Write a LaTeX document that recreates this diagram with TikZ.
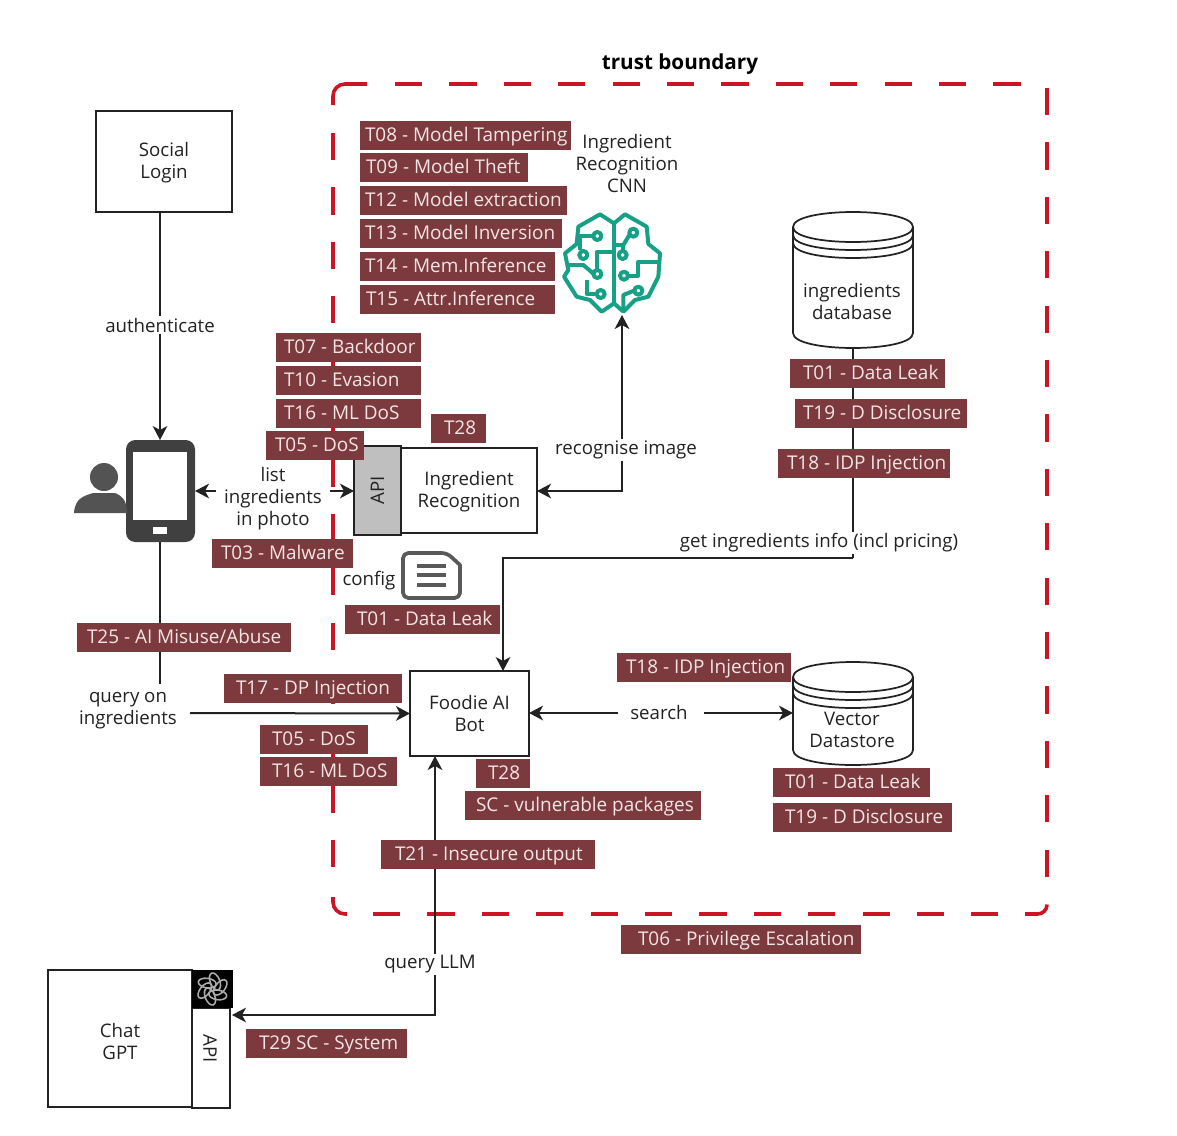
\documentclass[tikz,border=0pt]{standalone}
\usepackage{fontspec}
\setmainfont{Open Sans}
\usetikzlibrary{arrows.meta,backgrounds}
\definecolor{tagfill}{HTML}{7D3A3E}
\definecolor{tagtext}{HTML}{F2E6E4}
\definecolor{bound}{HTML}{CB1424}
\definecolor{ink}{HTML}{222222}
\definecolor{teal}{HTML}{16A085}
\definecolor{devgrey}{HTML}{404040}
\tikzset{
  threat/.style={fill=tagfill,text=tagtext,inner sep=0pt,outer sep=0pt,minimum height=29*0.75pt,text height=10.5pt,text depth=0.5pt,font=\fontsize{14.2}{16}\selectfont},
  lbl/.style={text=ink,fill=white,inner sep=1pt,align=center,font=\fontsize{14}{16.5}\selectfont},
  plain/.style={text=ink,align=center,inner sep=0pt,font=\fontsize{14}{16.5}\selectfont},
  box/.style={draw=ink,line width=1.5pt,fill=white,inner sep=0pt,outer sep=0pt,align=center,text=ink,font=\fontsize{14}{16.5}\selectfont},
  conn/.style={draw=ink,line width=1.5pt},
  arr/.style={conn,-{Stealth[length=10.5pt,width=11pt,inset=3pt]}},
  boundary/.style={draw=bound,line width=2.7pt,dash pattern=on 20.4pt off 20.4pt},
  boundcorner/.style={draw=bound,line width=2.7pt,rounded corners=9pt},
  cyl/.style={draw=ink,line width=1.3pt,fill=white},
  circuit/.style={draw=teal,line width=3pt,line join=round},
}
\newcommand{\threat}[6]{\pgfmathsetmacro{\tw}{(#3-#2)*0.75}\pgfmathsetmacro{\tp}{#5*0.75}%
  \node[threat,minimum width=\tw pt] (#1) at ({(#2+#3)/2},#4) {\makebox[\tw pt][l]{\hspace*{\tp pt}#6}};}
\newcommand{\dbcyl}[4]{%
  \path[cyl] (#2-60,#3+15) .. controls (#2-60,#3-5) and (#2+60,#3-5) .. (#2+60,#3+15)
    -- (#2+60,#4-15) .. controls (#2+60,#4+5) and (#2-60,#4+5) .. (#2-60,#4-15) -- cycle;
  \draw[cyl,fill=none] (#2-60,#3+15) .. controls (#2-60,#3+35) and (#2+60,#3+35) .. (#2+60,#3+15);
  \draw[cyl,fill=none] (#2-60,#3+23) .. controls (#2-60,#3+43) and (#2+60,#3+43) .. (#2+60,#3+23);
  \draw[cyl,fill=none] (#2-60,#3+31) .. controls (#2-60,#3+51) and (#2+60,#3+51) .. (#2+60,#3+31);
}
\begin{document}
\begin{tikzpicture}[x=0.75pt,y=-0.75pt]
\useasboundingbox (0,0) rectangle (1177,1135);

% boxes
\node[box,minimum width=136*0.75pt,minimum height=101*0.75pt] (social) at (164,161.5) {\rule{0pt}{12pt}Social\\Login};
\node[box,minimum width=136*0.75pt,minimum height=85*0.75pt] (recog) at (469,490.5) {\rule{0pt}{13pt}Ingredient\\Recognition};
\node[box,fill=black!25,minimum width=47*0.75pt,minimum height=89*0.75pt] (api) at (377.5,490.5) {\rotatebox{90}{API}};
\node[box,minimum width=119*0.75pt,minimum height=85*0.75pt] (foodie) at (469.5,713.5) {Foodie AI\\Bot};
\node[box,minimum width=144*0.75pt,minimum height=137*0.75pt] (chat) at (120,1038.5) {\rule{0pt}{15pt}Chat\\GPT};
\node[box,minimum width=38*0.75pt,minimum height=100*0.75pt] (chatapi) at (211,1057.5) {};
\node[plain] (chatapitext) at (210,1049) {\rotatebox{-90}{API}};
\node[fill=black,inner sep=0pt,outer sep=0pt,minimum width=41*0.75pt,minimum height=38*0.75pt] (logo) at (212.5,989) {};
\foreach \a in {0,60,...,300}
  \draw[white!68!black,line width=1.15pt,shift={(212.5,989)},rotate=\a] (2.5,-7.5) ellipse [x radius=4.8,y radius=9,rotate=22];

% phone and user
\node[fill=devgrey,rounded corners=7pt,inner sep=0pt,outer sep=0pt,minimum width=69*0.75pt,minimum height=102*0.75pt] (phone) at (160.5,491) {};
\fill[white] (133,452) rectangle (187,520);
\fill[white] (153,527) rectangle (167,534);
\fill[devgrey!90] (104,477) circle [radius=14];
\fill[devgrey!90] (74,513) .. controls (75,498) and (84,496) .. (93,493) -- (115,493) .. controls (122,496) and (127,500) .. (127,513) -- cycle;

% brain icon
\node[inner sep=0pt,minimum size=75pt] (brain) at (613,263) {};
\begin{scope}[shift={(540,120)},x=0.25pt,y=-0.25pt]
  \draw[circuit] (222,310) -- (180,283) -- (115,320) -- (110,372) -- (75,400) -- (85,450) -- (72,470) -- (110,530) -- (150,540) -- (185,575) -- (222,550) -- (250,575) -- (285,540) -- (325,530) -- (355,470) -- (360,400) -- (325,372) -- (320,320) -- (255,283) -- cycle;
  \draw[circuit] (222,310) -- (222,550);
  \draw[circuit] (158,348) -- (120,348) -- (120,390);
  \draw[circuit] (85,435) -- (130,435) -- (165,465);
  \draw[circuit] (172,448) -- (172,395) -- (222,395);
  \draw[circuit] (140,480) -- (140,522) -- (168,522);
  \draw[circuit] (268,345) -- (250,375) -- (222,375);
  \draw[circuit] (248,392) -- (248,375);
  \draw[circuit] (266,467) -- (295,467) -- (295,425) -- (358,425);
  \draw[circuit] (282,512) -- (250,525) -- (250,575);
  \foreach \p in {(172,348),(130,405),(172,462),(182,522),(280,338),(248,405),(252,467),(295,512)}
    \draw[circuit,fill=white] \p circle [radius=12];
\end{scope}

% document icon
\node[inner sep=0pt,minimum width=59*0.75pt,minimum height=50*0.75pt] (doc) at (432.5,575) {};
\draw[draw=black!65,line width=2.8pt,line join=round,rounded corners=4pt] (403,553) -- (447,553) [sharp corners] -- (460,565) [rounded corners=4pt] -- (460,598) -- (403,598) -- cycle;
\draw[draw=black!65,line width=2.4pt] (417,566) -- (446,566) (417,575) -- (446,575) (417,585) -- (446,585);

% databases
\dbcyl{dbA}{853}{212}{348}
\dbcyl{dbB}{853}{662}{765}
\node[plain] (ingdb) at (852,301) {ingredients\\database};
\node[plain] (vecdb) at (852,730) {Vector\\Datastore};
\coordinate (dbout) at (853,348);
\coordinate (vecin) at (793,713);

% labels
\node[font=\bfseries\fontsize{15.5}{18}\selectfont,text=black,inner sep=0pt] (trust) at (680,64) {trust boundary};
\node[plain] (cnn) at (627,163.5) {Ingredient\\Recognition\\CNN};
\node[lbl] (auth) at (160,325) {authenticate};
\node[lbl] (list) at (273,499) {list\\ingredients\\in photo};
\node[lbl] (recimg) at (626,450) {recognise image};
\node[lbl] (getinfo) at (819,543) {get ingredients info (incl pricing)};
\node[plain] (config) at (369,581) {config};
\node[lbl] (query) at (128,711) {query on\\ingredients};
\node[lbl] (search) at (659,712) {search};
\node[lbl] (qllm) at (430,964) {query LLM};

% threats
\threat{tA}{360}{571}{135}{5}{T08 - Model Tampering}
\threat{tB}{360}{528}{167}{6}{T09 - Model Theft}
\threat{tC}{360}{567}{200}{5}{T12 - Model extraction}
\threat{tD}{360}{562}{233}{5}{T13 - Model Inversion}
\threat{tE}{360}{555}{266}{5}{T14 - Mem.Inference}
\threat{tF}{360}{555}{299}{6}{T15 - Attr.Inference}
\threat{tG}{276}{421}{347}{8}{T07 - Backdoor}
\threat{tH}{276}{421}{380}{8}{T10 - Evasion}
\threat{tI}{276}{421}{413}{8}{T16 - ML DoS}
\threat{tJ}{266}{364}{445}{9}{T05 - DoS}
\threat{tK}{431}{486}{428}{13}{T28}
\threat{tL}{790}{945}{373}{13}{T01 - Data Leak}
\threat{tM}{795}{967}{413}{8}{T19 - D Disclosure}
\threat{tN}{778}{950}{463}{9}{T18 - IDP Injection}
\threat{tO}{212}{353}{553}{9}{T03 - Malware}
\threat{tP}{345}{500}{619}{12}{T01 - Data Leak}
\threat{tQ}{77}{291}{637}{10}{T25 - AI Misuse/Abuse}
\threat{tR}{224}{402}{688}{12}{T17 - DP Injection}
\threat{tS}{617}{791}{667}{9}{T18 - IDP Injection}
\threat{tT}{260}{368}{739}{12}{T05 - DoS}
\threat{tU}{260}{397}{771}{12}{T16 - ML DoS}
\threat{tV}{476}{530}{773}{12}{T28}
\threat{tW}{465}{701}{805}{11}{SC - vulnerable packages}
\threat{tX}{773}{930}{782}{12}{T01 - Data Leak}
\threat{tY}{773}{952}{817}{12}{T19 - D Disclosure}
\threat{tZ}{381}{595}{854}{14}{T21 - Insecure output}
\threat{tAA}{621}{861}{939}{17}{T06 - Privilege Escalation}
\threat{tAB}{246}{407}{1043}{13}{T29 SC - System}

% coordinates for the free ends and bends
\coordinate (soc) at (160,212);
\coordinate (brainin) at (622,315);
\coordinate (recdown) at (622,491);
\coordinate (infocorner) at (853,558);
\coordinate (infobend) at (503,558);
\coordinate (foodiein) at (503,671);
\coordinate (llmup) at (435,756);
\coordinate (llmbend) at (435,1015);
\coordinate (apiin) at (232,1015);
\coordinate (listl) at (216,491);
\coordinate (listr) at (330,491);
\coordinate (phoneleft) at (195,491);
\coordinate (qeast) at (190,713);
\coordinate (phonedown) at (160,684);
\coordinate (sl) at (618,713);
\coordinate (sr) at (704,713);

\begin{scope}[on background layer]
  \draw[boundcorner] (333,105) -- (333,84) -- (367,84);
  \draw[boundary] (395,84) -- (1021,84);
  \draw[boundary] (1047,88) -- (1047,882);
  \draw[boundcorner,rounded corners=7pt] (1025,914) -- (1047,914) -- (1047,905);
  \draw[boundary] (373,914) -- (998,914);
  \draw[boundcorner] (333,897) -- (333,914) -- (347,914);
  \draw[boundary] (333,133) -- (333,870);
  \draw[arr] (soc) -- (soc |- phone.north);
  \draw[conn] (soc |- phone.south) -- (phonedown);
  \draw[arr] (qeast) -- (foodie.west);
  \draw[arr] (listl) -- (phoneleft);
  \draw[arr] (listr) -- (api.west |- listr);
  \draw[arr] (recimg.north -| brainin) -- (brainin);
  \draw[arr] (recimg.south -| recdown) -- (recdown) -- (recog.east |- recdown);
  \draw[conn] (dbout) -- (infocorner);
  \draw[arr] (infocorner) -- (infobend) -- (foodiein);
  \draw[arr] (sl) -- (foodie.east |- sl);
  \draw[arr] (sr) -- (vecin);
  \draw[arr] (qllm.north -| llmup) -- (llmup);
  \draw[arr] (qllm.south -| llmbend) -- (llmbend) -- (apiin);
\end{scope}
\end{tikzpicture}
\end{document}
